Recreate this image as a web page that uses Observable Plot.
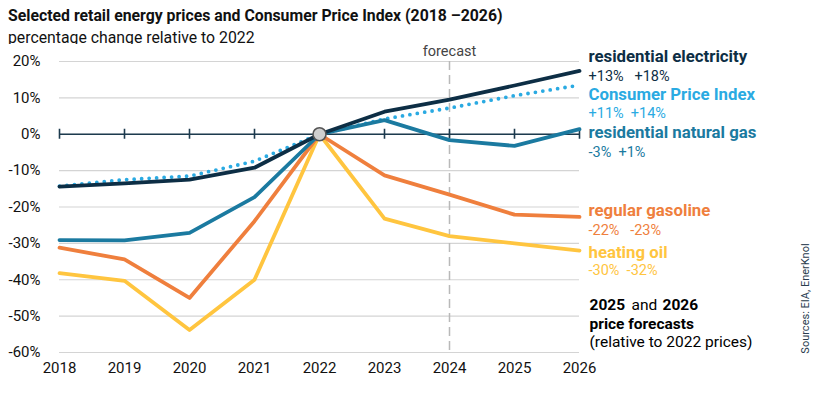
<!DOCTYPE html>
<html><head><meta charset="utf-8">
<script src="https://cdn.jsdelivr.net/npm/d3@7"></script>
<script src="https://cdn.jsdelivr.net/npm/@observablehq/plot@0.6"></script>
<style>
body{margin:0;background:#fff;font-family:Roboto,"Noto Sans",sans-serif;color:#111;width:817px;height:396px;position:relative;overflow:hidden}
#title{position:absolute;left:8px;top:6px;font-weight:700;font-size:15.8px;white-space:nowrap}
#subtitle{position:absolute;left:8px;top:28px;font-size:15.8px;white-space:nowrap}
#chart{position:absolute;left:0;top:44px}
</style></head>
<body>
<div id="title">Selected retail energy prices and Consumer Price Index (2018 –2026)</div>
<div id="subtitle">percentage change relative to 2022</div>
<div id="chart"></div>
<script>
const years = [2018, 2019, 2020, 2021, 2022, 2023, 2024, 2025, 2026];
const electricity = [-14.4, -13.5, -12.5, -9.2, 0, 6.2, 9.5, 13.4, 17.4];
const cpi = [-14.3, -12.5, -11.5, -7.4, 0, 4.2, 7.2, 10.6, 13.5];
const naturalGas = [-29.1, -29.2, -27.1, -17.3, 0, 3.9, -1.6, -3.2, 1.4];
const gasoline = [-31.2, -34.4, -45.0, -23.9, 0, -11.3, -16.6, -22.1, -22.7];
const heatingOil = [-38.2, -40.3, -53.8, -40.0, 0, -23.2, -28.0, -30.0, -32.0];
const yTicks = [20, 10, 0, -10, -20, -30, -40, -50, -60];
const forecastYear = 2024;
const baseYear = 2022;

const seriesNames = ["residential electricity", "Consumer Price Index", "residential natural gas", "regular gasoline", "heating oil"];
const seriesValueLabels = ["+13%   +18%", "+11%  +14%", "-3%  +1%", "-22%   -23%", "-30%  -32%"];
const seriesColors = ["#0d2e45", "#2aaae2", "#1b7aa0", "#ef7f3d", "#ffc53f"];
const seriesData = [electricity, cpi, naturalGas, gasoline, heatingOil];
// layout offsets for end labels (px)
const nameDy = [-14, 9, 3.5, -6, 2];
const valueDy = [5, 28, 23.5, 14, 20];

const rows = [];
seriesNames.forEach((name, s) => years.forEach((yr, i) => rows.push({series: name, year: yr, value: seriesData[s][i]})));
const ends = seriesNames.map((name, s) => ({series: name, year: years[years.length - 1], value: seriesData[s][years.length - 1], s}));

const lineFor = (s, extra = {}) => Plot.line(rows.filter(d => d.series === seriesNames[s]), {
  x: "year", y: "value", stroke: seriesColors[s], strokeWidth: 3.8, strokeLinejoin: "round", ...extra
});

const endLabels = ends.flatMap(e => [
  Plot.text([e], {x: "year", y: "value", text: "series", fill: seriesColors[e.s], dx: 9, dy: nameDy[e.s], textAnchor: "start", fontWeight: 700, fontSize: 16.8}),
  Plot.text([e], {x: "year", y: "value", text: d => seriesValueLabels[d.s], fill: seriesColors[e.s], dx: 9, dy: valueDy[e.s], textAnchor: "start", fontSize: 14.5})
]);

const fmtPct = d => (d < 0 ? "-" + Math.abs(d) : d) + "%";

const plot = Plot.plot({
  width: 817,
  height: 352,
  marginLeft: 59,
  marginRight: 238,
  marginTop: 17,
  marginBottom: 44,
  style: {fontFamily: "Roboto, 'Noto Sans', sans-serif", fontSize: "14px", color: "#111", background: "white", overflow: "visible"},
  x: {domain: [2018, 2026]},
  y: {domain: [-60, 20]},
  marks: [
    Plot.ruleY(yTicks, {stroke: "#d4d4d4", strokeWidth: 1.2}),
    Plot.ruleX([forecastYear], {y1: 20, y2: -60, stroke: "#b9b9b9", strokeWidth: 1.5, strokeDasharray: "9,5"}),
    Plot.text(["forecast"], {x: forecastYear, y: 20, dy: -10, text: d => d, fill: "#444", fontSize: 14.5}),
    Plot.axisY({ticks: yTicks, tickSize: 0, tickPadding: 19, tickFormat: fmtPct, fontSize: 15, fill: "#111", label: null}),
    Plot.axisX({ticks: years, tickSize: 0, tickPadding: 10, tickFormat: d => String(d), fontSize: 15, fill: "#111", label: null}),
    Plot.ruleY([0], {stroke: "#1d3b4e", strokeWidth: 1.6}),
    Plot.ruleX(years, {y1: 0, y2: 0, insetTop: -5, insetBottom: -5, stroke: "#1d3b4e", strokeWidth: 1.6}),
    lineFor(4),
    lineFor(3),
    lineFor(1, {strokeDasharray: "0,7.5", strokeLinecap: "round", strokeWidth: 3.8}),
    lineFor(2),
    lineFor(0),
    Plot.dot([{year: baseYear, value: 0}], {x: "year", y: "value", r: 6.5, fill: "#cfcfcf", stroke: "#555", strokeWidth: 1.6}),
    ...endLabels,
    Plot.text(["2025"], {x: 2026, y: -60, dx: 10, dy: -47, text: d => d, textAnchor: "start", fontWeight: 700, fontSize: 15.5, fill: "#000"}),
    Plot.text(["and"], {x: 2026, y: -60, dx: 52, dy: -47, text: d => d, textAnchor: "start", fontSize: 15.5, fill: "#000"}),
    Plot.text(["2026"], {x: 2026, y: -60, dx: 83, dy: -47, text: d => d, textAnchor: "start", fontWeight: 700, fontSize: 15.5, fill: "#000"}),
    Plot.text(["price forecasts"], {x: 2026, y: -60, dx: 10, dy: -28, text: d => d, textAnchor: "start", fontWeight: 700, fontSize: 15.5, fill: "#000"}),
    Plot.text(["(relative to 2022 prices)"], {x: 2026, y: -60, dx: 10, dy: -10, text: d => d, textAnchor: "start", fontSize: 15.5, fill: "#000"}),
    Plot.text(["Sources: EIA, EnerKnol"], {x: 2026, y: -60, dx: 226, dy: -54, text: d => d, rotate: -90, fontSize: 11, fill: "#2b3d4f"})
  ]
});
document.getElementById("chart").appendChild(plot);
</script>
</body></html>
